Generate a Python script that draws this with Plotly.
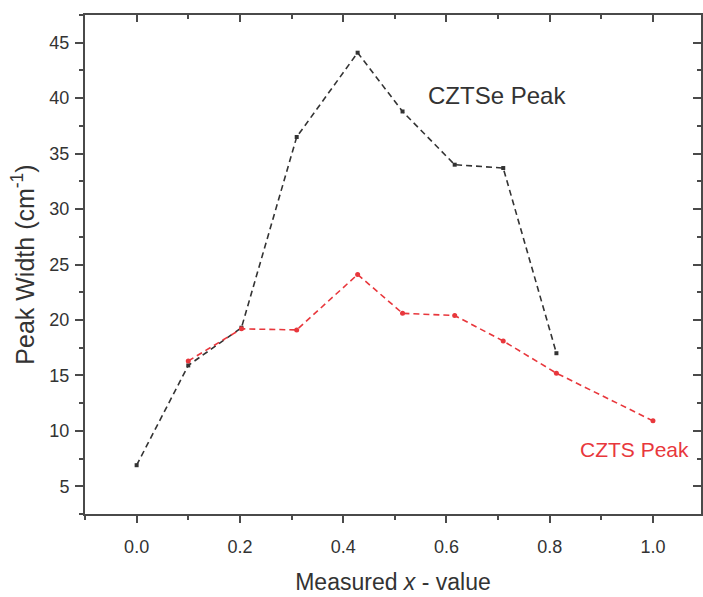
import plotly.graph_objects as go

# CZTSe peak width (black)
x_cztse = [0.0, 0.1, 0.203, 0.31, 0.428, 0.515, 0.616, 0.71, 0.813]
w_cztse = [6.9, 15.9, 19.3, 36.5, 44.1, 38.8, 34.0, 33.7, 17.0]
# CZTS peak width (red)
x_czts = [0.1, 0.203, 0.31, 0.428, 0.515, 0.616, 0.71, 0.813, 1.0]
w_czts = [16.3, 19.2, 19.1, 24.1, 20.6, 20.4, 18.1, 15.2, 10.9]

x_ticks = [0.0, 0.2, 0.4, 0.6, 0.8, 1.0]
x_ticklabels = ["0.0", "0.2", "0.4", "0.6", "0.8", "1.0"]
y_ticks = [5, 10, 15, 20, 25, 30, 35, 40, 45]

BLACK = "#333333"
RED = "#e8373c"
AX = "#4a4a4a"
FONT = "Arial, Liberation Sans, sans-serif"
xr = [-0.1, 1.093]
yr = [2.5, 47.5]

fig = go.Figure()
fig.add_trace(go.Scatter(
    x=x_cztse, y=w_cztse, mode="lines+markers",
    line=dict(color=BLACK, width=1.6, dash="6px,4px"),
    marker=dict(symbol="square", size=4, color=BLACK),
    showlegend=False))
fig.add_trace(go.Scatter(
    x=x_czts, y=w_czts, mode="lines+markers",
    line=dict(color=RED, width=1.6, dash="6px,4px"),
    marker=dict(symbol="circle", size=5, color=RED),
    showlegend=False))
# invisible trace to host the mirrored (top/right) axes
fig.add_trace(go.Scatter(x=[xr[0]], y=[yr[0]], xaxis="x2", yaxis="y2",
                         mode="markers", marker=dict(opacity=0),
                         showlegend=False, hoverinfo="skip"))

fig.add_annotation(x=0.697, y=40.2, xref="x", yref="y", text="CZTSe Peak",
                   showarrow=False, font=dict(family=FONT, size=24, color=BLACK))
fig.add_annotation(x=0.964, y=8.3, xref="x", yref="y", text="CZTS Peak",
                   showarrow=False, font=dict(family=FONT, size=21, color=RED))

fig.update_layout(
    width=703, height=597,
    margin=dict(l=85, r=2, t=15, b=83),
    paper_bgcolor="white", plot_bgcolor="white",
    font=dict(family=FONT, color=BLACK),
    xaxis=dict(range=xr, tickvals=x_ticks, ticktext=x_ticklabels,
               ticks="outside", ticklen=7, tickwidth=1.5, tickcolor=AX,
               minor=dict(ticks="outside", ticklen=4, dtick=0.1, tick0=0, tickcolor=AX, tickwidth=1.5),
               showline=True, linecolor=AX, linewidth=2, showgrid=False, zeroline=False,
               tickfont=dict(size=18, color=BLACK), ticklabelstandoff=8,
               title=dict(text="Measured <i>x</i> - value", font=dict(size=23, color=BLACK), standoff=18)),
    yaxis=dict(range=yr, tickvals=y_ticks,
               ticks="outside", ticklen=8, tickwidth=1.5, tickcolor=AX,
               minor=dict(ticks="outside", ticklen=4, dtick=2.5, tick0=0, tickcolor=AX, tickwidth=1.5),
               showline=True, linecolor=AX, linewidth=2, showgrid=False, zeroline=False,
               tickfont=dict(size=18, color=BLACK), ticklabelstandoff=2,
               title=dict(text="Peak Width (cm<sup>-1</sup>)", font=dict(size=25, color=BLACK), standoff=8)),
    xaxis2=dict(range=xr, overlaying="x", side="top", anchor="y2",
                tickvals=x_ticks, showticklabels=False,
                ticks="inside", ticklen=7, tickwidth=1.5, tickcolor=AX,
                minor=dict(ticks="inside", ticklen=4, dtick=0.1, tick0=0, tickcolor=AX, tickwidth=1.5),
                showline=True, linecolor=AX, linewidth=2, showgrid=False, zeroline=False),
    yaxis2=dict(range=yr, overlaying="y", side="right", anchor="x2",
                tickvals=y_ticks, showticklabels=False,
                ticks="inside", ticklen=8, tickwidth=1.5, tickcolor=AX,
                minor=dict(ticks="inside", ticklen=4, dtick=2.5, tick0=0, tickcolor=AX, tickwidth=1.5),
                showline=True, linecolor=AX, linewidth=2, showgrid=False, zeroline=False),
)

fig.write_html("out.html")
